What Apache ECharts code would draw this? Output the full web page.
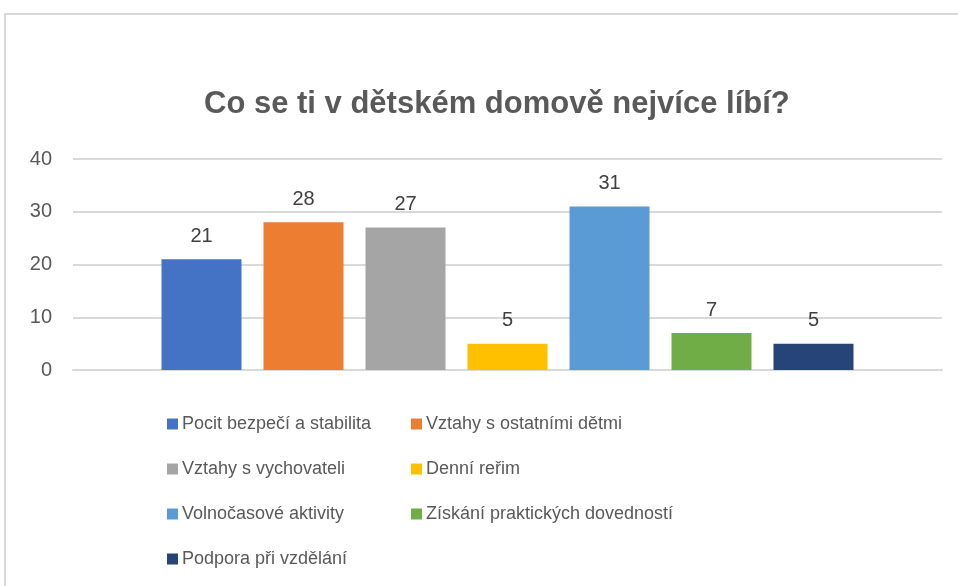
<!DOCTYPE html>
<html>
<head>
<meta charset="utf-8">
<script src="https://cdn.jsdelivr.net/npm/echarts@6/dist/echarts.min.js"></script>
<style>
  html, body { margin: 0; padding: 0; background: #fff; }
  #frame { position: absolute; left: 4px; top: 13px; width: 954px; height: 573px;
           border-top: 2px solid #d9d9d9; border-left: 2px solid #d9d9d9; }
  #chart { position: absolute; left: 0; top: 0; width: 958px; height: 586px; }
</style>
</head>
<body>
<div id="frame"></div>
<div id="chart"></div>
<script>
const titleText = 'Co se ti v dětském domově nejvíce líbí?';
const names = [
  'Pocit bezpečí a stabilita',
  'Vztahy s ostatními dětmi',
  'Vztahy s vychovateli',
  'Denní reřim',
  'Volnočasové aktivity',
  'Získání praktických dovedností',
  'Podpora při vzdělání'
];
const values = [21, 28, 27, 5, 31, 7, 5];
const colors = ['#4472C4', '#ED7D31', '#A5A5A5', '#FFC000', '#5B9BD5', '#70AD47', '#264478'];
const yTicks = [0, 10, 20, 30, 40];

const font = '"Liberation Sans", sans-serif';
let chart = echarts.init(document.getElementById('chart'));

let series = names.map((n, i) => ({
  name: n,
  type: 'bar',
  data: [values[i]],
  barWidth: 80,
  barGap: '27.5%',
  itemStyle: { color: colors[i] },
  label: {
    show: true,
    position: 'top',
    distance: 13,
    color: '#404040',
    fontSize: 20,
    fontFamily: font
  }
}));

let legendStyle = {
  orient: 'vertical',
  icon: 'rect',
  itemWidth: 11,
  itemHeight: 11,
  itemGap: 25,
  top: 409,
  textStyle: { color: '#595959', fontSize: 18, fontFamily: font, lineHeight: 20, padding: [0, 0, 0, -1] }
};

let option = {
  animation: false,
  title: {
    text: titleText,
    left: 199,
    top: 84,
    textStyle: { color: '#595959', fontSize: 31, fontWeight: 'bold', fontFamily: font }
  },
  legend: [
    Object.assign({}, legendStyle, { left: 162, data: names.filter((n, i) => i % 2 === 0) }),
    Object.assign({}, legendStyle, { left: 406, data: names.filter((n, i) => i % 2 === 1) })
  ],
  grid: { left: 73, right: 16, top: 159, bottom: 216 },
  xAxis: {
    type: 'category',
    data: [''],
    axisLine: { lineStyle: { color: '#d9d9d9', width: 2 } },
    axisTick: { show: false },
    axisLabel: { show: false }
  },
  yAxis: {
    type: 'value',
    min: yTicks[0],
    max: yTicks[yTicks.length - 1],
    interval: 10,
    axisLine: { show: false },
    axisTick: { show: false },
    axisLabel: { color: '#595959', fontSize: 20, fontFamily: font, margin: 21 },
    splitLine: { lineStyle: { color: '#d9d9d9', width: 2 } }
  },
  series: series
};

chart.setOption(option);
</script>
</body>
</html>
